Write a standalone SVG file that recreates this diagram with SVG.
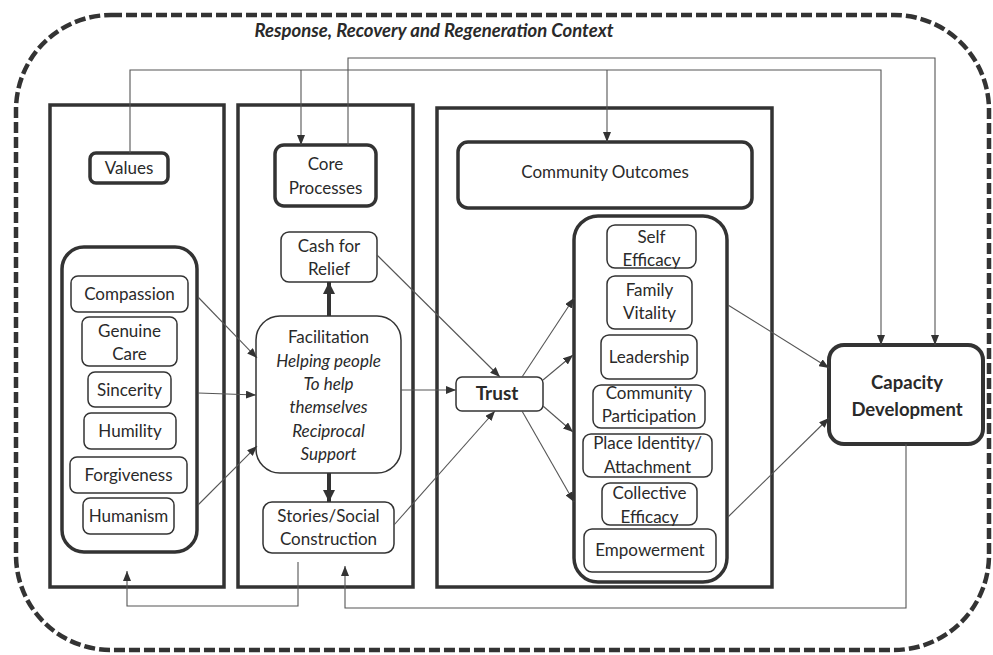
<svg xmlns="http://www.w3.org/2000/svg" width="993" height="655" viewBox="0 0 993 655">
<defs>
<style>
.t{font-family:Lato,"Open Sans","Liberation Sans",sans-serif;font-size:17px;fill:#2a2a2a;text-anchor:middle}
.i{font-style:italic}
.b{font-weight:bold}
.panel{fill:none;stroke:#333;stroke-width:3.5}
.hdr{fill:#fff;stroke:#333;stroke-width:3.5}
.grp{fill:#fff;stroke:#333;stroke-width:3.5}
.box{fill:#fff;stroke:#333;stroke-width:1.5}
.ln{fill:none;stroke:#555;stroke-width:1.1}
.thick{fill:none;stroke:#333;stroke-width:4}
</style>
<marker id="ah" viewBox="0 0 10 8" refX="10" refY="4" markerWidth="10" markerHeight="8" markerUnits="userSpaceOnUse" orient="auto"><path d="M0,0 L10,4 L0,8 z" fill="#333"/></marker>
<marker id="ahT" viewBox="0 0 12 12" refX="12" refY="6" markerWidth="12" markerHeight="12" markerUnits="userSpaceOnUse" orient="auto"><path d="M0,0 L12,6 L0,12 z" fill="#333"/></marker>
</defs>
<rect width="993" height="655" fill="#fff"/>

<g id="context">
<rect x="16" y="15" width="973" height="635" rx="95" fill="none" stroke="#333" stroke-width="4.5" stroke-dasharray="11 4"/>
<text x="434" y="37" class="t i b" style="font-size:18.5px">Response, Recovery and Regeneration Context</text>
</g>

<g id="panels">
<rect x="50" y="105" width="174" height="482" class="panel"/>
<rect x="238" y="105" width="175" height="482" class="panel"/>
<rect x="437" y="108" width="335" height="479" class="panel"/>
</g>

<g id="values">
<rect x="90" y="153" width="78" height="30" rx="6" class="hdr"/>
<text x="129" y="174" class="t">Values</text>
</g>
<g id="values-group">
<rect x="62" y="247" width="135" height="305" rx="22" class="grp"/>
</g>
<g id="compassion"><rect x="71" y="276" width="117" height="36" rx="7" class="box"/><text x="129.5" y="300" class="t">Compassion</text></g>
<g id="genuine-care"><rect x="82" y="317" width="95" height="49" rx="7" class="box"/><text x="129.5" y="337" class="t">Genuine</text><text x="129.5" y="360" class="t">Care</text></g>
<g id="sincerity"><rect x="88" y="372" width="83" height="35" rx="7" class="box"/><text x="129.5" y="396" class="t">Sincerity</text></g>
<g id="humility"><rect x="84" y="413" width="92" height="36" rx="7" class="box"/><text x="130" y="437" class="t">Humility</text></g>
<g id="forgiveness"><rect x="70" y="457" width="117" height="36" rx="7" class="box"/><text x="128.5" y="481" class="t">Forgiveness</text></g>
<g id="humanism"><rect x="83" y="498" width="91" height="36" rx="7" class="box"/><text x="128.5" y="522" class="t">Humanism</text></g>

<g id="core-processes">
<rect x="275" y="145" width="101" height="61" rx="9" class="hdr"/>
<text x="325.5" y="170" class="t">Core</text>
<text x="325.5" y="194" class="t">Processes</text>
</g>
<g id="cash-for-relief"><rect x="281" y="232" width="96" height="50" rx="8" class="box"/><text x="329" y="252" class="t">Cash for</text><text x="329" y="275" class="t">Relief</text></g>
<g id="facilitation">
<rect x="256" y="316" width="145" height="157" rx="24" class="box"/>
<text x="328.5" y="343" class="t">Facilitation</text>
<text x="328.5" y="367" class="t i">Helping people</text>
<text x="328.5" y="390" class="t i">To help</text>
<text x="328.5" y="413" class="t i">themselves</text>
<text x="328.5" y="437" class="t i">Reciprocal</text>
<text x="328.5" y="460" class="t i">Support</text>
</g>
<g id="stories"><rect x="263" y="502" width="131" height="51" rx="9" class="box"/><text x="328.5" y="522" class="t">Stories/Social</text><text x="328.5" y="545" class="t">Construction</text></g>

<g id="community-outcomes">
<rect x="458" y="142" width="294" height="66" rx="10" class="hdr"/>
<text x="605" y="178" class="t">Community Outcomes</text>
</g>
<g id="trust"><rect x="456" y="377" width="87" height="34" rx="6" class="box"/><text x="497" y="400" class="t b" style="font-size:19px">Trust</text></g>
<g id="outcomes-group"><rect x="574" y="216" width="153" height="366" rx="24" class="grp"/></g>
<g id="self-efficacy"><rect x="607" y="225" width="89" height="43" rx="8" class="box"/><text x="651.5" y="243" class="t">Self</text><text x="651.5" y="266" class="t">Efficacy</text></g>
<g id="family-vitality"><rect x="607" y="276" width="85" height="53" rx="8" class="box"/><text x="649.5" y="296" class="t">Family</text><text x="649.5" y="319" class="t">Vitality</text></g>
<g id="leadership"><rect x="601" y="335" width="96" height="44" rx="8" class="box"/><text x="649" y="363" class="t">Leadership</text></g>
<g id="community-participation"><rect x="593" y="385" width="112" height="43" rx="8" class="box"/><text x="649" y="399" class="t">Community</text><text x="649" y="422" class="t">Participation</text></g>
<g id="place-identity"><rect x="583" y="434" width="129" height="43" rx="8" class="box"/><text x="647.5" y="449" class="t">Place Identity/</text><text x="647.5" y="473" class="t">Attachment</text></g>
<g id="collective-efficacy"><rect x="602" y="483" width="95" height="42" rx="8" class="box"/><text x="649.5" y="499" class="t">Collective</text><text x="649.5" y="523" class="t">Efficacy</text></g>
<g id="empowerment"><rect x="584" y="529" width="132" height="43" rx="8" class="box"/><text x="650" y="556" class="t">Empowerment</text></g>

<g id="capacity-development">
<rect x="829" y="345" width="154" height="99" rx="15" fill="#fff" stroke="#333" stroke-width="4"/>
<text x="907" y="389" class="t b" style="font-size:18.5px">Capacity</text>
<text x="907" y="416" class="t b" style="font-size:18.5px">Development</text>
</g>

<g id="connectors">
<path d="M348,145 V58 H935 V345" class="ln" marker-end="url(#ah)"/>
<path d="M130,153 V70 H881 V345" class="ln" marker-end="url(#ah)"/>
<path d="M301,70 V145" class="ln" marker-end="url(#ah)"/>
<path d="M607,70 V142" class="ln" marker-end="url(#ah)"/>
<path d="M198,297 L257,358" class="ln" marker-end="url(#ah)"/>
<path d="M198,393 L256,395" class="ln" marker-end="url(#ah)"/>
<path d="M198,505 L257,446" class="ln" marker-end="url(#ah)"/>
<path d="M329,316 V282" class="thick" marker-end="url(#ahT)"/>
<path d="M329,473 V502" class="thick" marker-end="url(#ahT)"/>
<path d="M377,255 L500,377" class="ln" marker-end="url(#ah)"/>
<path d="M401,390 H456" class="ln" marker-end="url(#ah)"/>
<path d="M394,525 L495,411" class="ln" marker-end="url(#ah)"/>
<path d="M522,377 L574,298" class="ln" marker-end="url(#ah)"/>
<path d="M543,380 L573,355" class="ln" marker-end="url(#ah)"/>
<path d="M543,406 L573,432" class="ln" marker-end="url(#ah)"/>
<path d="M522,411 L574,502" class="ln" marker-end="url(#ah)"/>
<path d="M728,305 L829,368" class="ln" marker-end="url(#ah)"/>
<path d="M728,517 L829,418" class="ln" marker-end="url(#ah)"/>
<path d="M298,562 V606 H127 V571" class="ln" marker-end="url(#ah)"/>
<path d="M906,444 V608 H345 V566" class="ln" marker-end="url(#ah)"/>
</g>
</svg>
